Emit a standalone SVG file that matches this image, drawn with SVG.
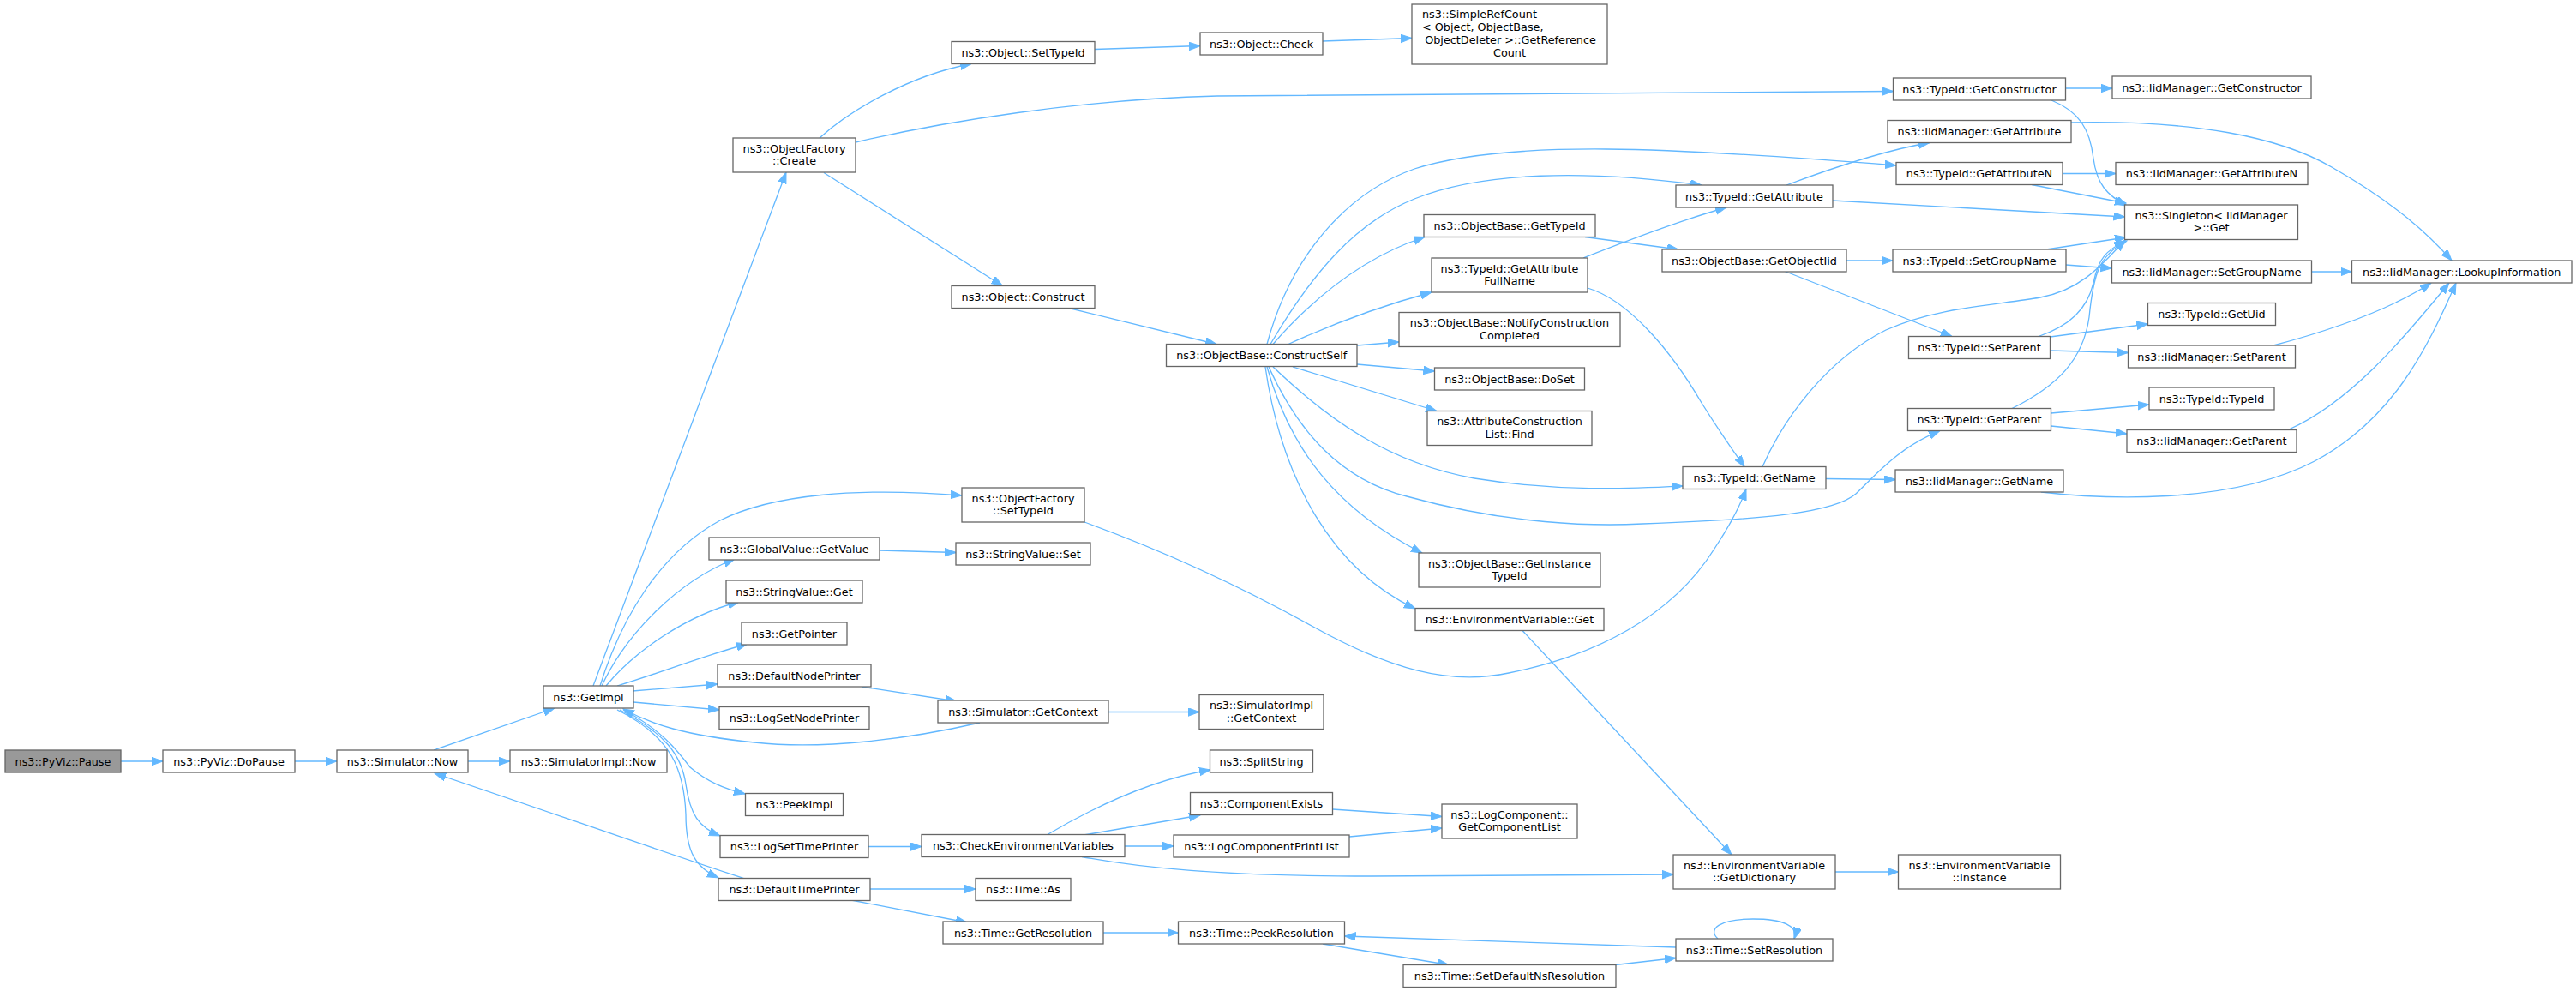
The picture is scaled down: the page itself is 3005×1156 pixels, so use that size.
<svg xmlns="http://www.w3.org/2000/svg" width="3005" height="1156" viewBox="0 0 3005 1156">
<defs>
<marker id="a" markerUnits="userSpaceOnUse" markerWidth="14" markerHeight="11" refX="13" refY="4.75" orient="auto">
<path d="M0,0 L13,4.75 L0,9.5 z" fill="#63b8ff" stroke="#63b8ff" stroke-width="1"/>
</marker>
<style>
.n rect{fill:#fff;stroke:#666;stroke-width:1.3}
.n text{font-family:"DejaVu Sans",Verdana,sans-serif;font-size:12.8px;text-anchor:middle;fill:#000}
.e path{fill:none;stroke:#63b8ff;stroke-width:1.3;marker-end:url(#a)}
</style>
</defs>
<rect width="3005" height="1156" fill="#fff"/>
<g id="edges" class="e">
<path d="M141,888 L190,888"/>
<path d="M344,888 L393,888"/>
<path d="M546,888 L595,888"/>
<path d="M506,875 L647,826"/>
<path d="M869,1025 C780,996 620,940 507,902"/>
<path d="M692,800 L917,201"/>
<path d="M700,800 C725,720 770,645 840,607 C900,577 1000,568 1122,578"/>
<path d="M702,800 C730,740 790,678 857,652"/>
<path d="M707,800 C740,760 800,718 862,702"/>
<path d="M720,800 C770,785 820,765 872,751"/>
<path d="M738,806 L837,798"/>
<path d="M739,819 L839,828"/>
<path d="M1143,843 C1060,862 960,875 880,866 C800,858 760,845 727,827"/>
<path d="M727,828 C770,850 790,875 805,895 C825,912 845,920 869,926"/>
<path d="M723,828 C775,855 795,880 800,915 C805,950 815,965 840,975"/>
<path d="M720,828 C785,860 798,900 800,950 C800,995 812,1012 838,1024"/>
<path d="M1005,801 L1116,818"/>
<path d="M1026,642 L1115,644.5"/>
<path d="M1293,830.5 L1399,830.5"/>
<path d="M1013,987.5 L1075,987.5"/>
<path d="M1015,1037 L1138,1037"/>
<path d="M993,1050 L1128,1076"/>
<path d="M1287,1088 L1374.5,1088"/>
<path d="M1221,974 C1270,945 1340,910 1412,898"/>
<path d="M1264,974 L1400,951"/>
<path d="M1312,987 L1369,987"/>
<path d="M1262,999.5 C1330,1012 1420,1022 1600,1022 C1750,1022 1870,1021 1952,1020"/>
<path d="M1554.5,944 L1682,952.5"/>
<path d="M1574,976 L1682,966"/>
<path d="M2141,1017 L2214.5,1017"/>
<path d="M1776,735.5 L2020,997"/>
<path d="M1955,1105 L1568.5,1092"/>
<path d="M1543,1101 L1690,1125.5"/>
<path d="M1880,1126 L1955,1117.5"/>
<path d="M2004,1095 C1992,1084 2005,1072 2045,1072 C2080,1072 2098,1080 2093,1095"/>
<path d="M1265,609 C1350,640 1440,680 1530,730 C1620,780 1690,800 1760,785 C1860,765 1950,720 2000,640 C2020,610 2030,590 2037,570.5"/>
<path d="M956,161 C990,130 1060,88 1133,74.5"/>
<path d="M1277,57.5 L1400,53.5"/>
<path d="M1543,48 L1647,44.5"/>
<path d="M998,166 C1100,142 1260,116 1420,112 L2208.5,106.5"/>
<path d="M961,201.5 L1169.5,333.5"/>
<path d="M1247,359.5 L1419,401.5"/>
<path d="M1478,401.5 C1505,300 1570,225 1650,197 C1760,162 1950,172 2212,193"/>
<path d="M1482,401.5 C1530,320 1580,260 1650,232 C1730,200 1850,198 1985,216"/>
<path d="M1485,401.5 C1530,350 1590,300 1662,276.5"/>
<path d="M1503,401.5 C1550,380 1610,357 1670,341"/>
<path d="M1583,403 L1632,399"/>
<path d="M1583,425 L1673.5,433"/>
<path d="M1508,428 L1676,479.5"/>
<path d="M1485,428 C1550,490 1620,540 1720,558 C1820,574 1900,570 1963,567"/>
<path d="M1480,428 C1515,505 1565,560 1641,579 C1760,612 1860,614 1916,611 C2060,606 2140,598 2165,576 C2190,552 2215,522 2263,502.5"/>
<path d="M1478,428 C1505,525 1560,595 1659,645"/>
<path d="M1476,428 C1495,560 1555,665 1651,710"/>
<path d="M1849,276.5 L1958,291"/>
<path d="M1847,301 C1880,288 1950,260 2014,242"/>
<path d="M1852,336 C1900,350 1950,410 1985,470 C2010,510 2025,530 2035,544.5"/>
<path d="M2084,216 C2140,195 2200,175 2251,166.5"/>
<path d="M2138,234 L2478.5,253"/>
<path d="M2154,304 L2208,304"/>
<path d="M2082,316.5 L2277,392.5"/>
<path d="M2130,558.5 L2211,559.5"/>
<path d="M2056,544.5 C2080,490 2130,420 2200,385 C2260,358 2330,356 2380,347 C2430,338 2455,305 2479,280"/>
<path d="M2409.5,103 L2464,103"/>
<path d="M2393,117 C2425,130 2438,150 2442,185 C2446,215 2458,228 2481,240"/>
<path d="M2416,143 C2560,140 2660,160 2720,195 C2790,235 2830,270 2860,304"/>
<path d="M2406,202.5 L2468,202.5"/>
<path d="M2370,215.5 L2480,237"/>
<path d="M2387,291 L2480,277"/>
<path d="M2410,309 L2463.5,313"/>
<path d="M2696.5,317 L2743.5,317"/>
<path d="M2378,392.5 C2415,380 2435,360 2442,330 C2448,300 2458,292 2479,281"/>
<path d="M2391.5,393 L2505.5,378"/>
<path d="M2391.5,409 L2482.5,411.5"/>
<path d="M2652,403 C2720,385 2790,360 2836,330"/>
<path d="M2347,476.5 C2400,450 2430,420 2437,370 C2442,320 2448,298 2481,281"/>
<path d="M2392.5,482 L2507,472"/>
<path d="M2392.5,497 L2481,506"/>
<path d="M2669,501.5 C2740,470 2800,400 2857,330"/>
<path d="M2381,574 C2450,582 2600,590 2700,538 C2790,490 2830,410 2865,330"/>
</g>
<g id="pause" class="n"><rect x="6" y="875" width="135" height="26" style="fill:#999"/><text x="73.5" y="892.5">ns3::PyViz::Pause</text></g>
<g id="dopause" class="n"><rect x="190" y="875" width="154" height="26"/><text x="267" y="892.5">ns3::PyViz::DoPause</text></g>
<g id="simnow" class="n"><rect x="393" y="875" width="153" height="26"/><text x="469.5" y="892.5">ns3::Simulator::Now</text></g>
<g id="simimplnow" class="n"><rect x="595" y="875" width="183" height="26"/><text x="686.5" y="892.5">ns3::SimulatorImpl::Now</text></g>
<g id="getimpl" class="n"><rect x="634" y="800" width="105" height="26"/><text x="686.5" y="817.5">ns3::GetImpl</text></g>
<g id="ofcreate" class="n"><rect x="855" y="161" width="143" height="40"/><text x="926.5" y="177.5">ns3::ObjectFactory</text><text x="926.5" y="192">::Create</text></g>
<g id="globalvalue" class="n"><rect x="827" y="627" width="199" height="26"/><text x="926.5" y="644.5">ns3::GlobalValue::GetValue</text></g>
<g id="stringget" class="n"><rect x="847" y="677" width="159" height="26"/><text x="926.5" y="694.5">ns3::StringValue::Get</text></g>
<g id="getpointer" class="n"><rect x="865" y="726" width="123" height="26"/><text x="926.5" y="743.5">ns3::GetPointer</text></g>
<g id="defnodeprinter" class="n"><rect x="837" y="775" width="179" height="26"/><text x="926.5" y="792.5">ns3::DefaultNodePrinter</text></g>
<g id="logsetnodeprinter" class="n"><rect x="839" y="824.5" width="175" height="26"/><text x="926.5" y="842">ns3::LogSetNodePrinter</text></g>
<g id="peekimpl" class="n"><rect x="869.5" y="925.5" width="114" height="26"/><text x="926.5" y="943">ns3::PeekImpl</text></g>
<g id="logsettimeprinter" class="n"><rect x="840" y="974.5" width="173" height="26"/><text x="926.5" y="992">ns3::LogSetTimePrinter</text></g>
<g id="deftimeprinter" class="n"><rect x="838" y="1024.5" width="177" height="26"/><text x="926.5" y="1042">ns3::DefaultTimePrinter</text></g>
<g id="objsettypeid" class="n"><rect x="1110" y="48.5" width="167" height="26"/><text x="1193.5" y="66">ns3::Object::SetTypeId</text></g>
<g id="objconstruct" class="n"><rect x="1110" y="333.5" width="167" height="26"/><text x="1193.5" y="351">ns3::Object::Construct</text></g>
<g id="ofsettypeid" class="n"><rect x="1122" y="569" width="143" height="40"/><text x="1193.5" y="585.5">ns3::ObjectFactory</text><text x="1193.5" y="600">::SetTypeId</text></g>
<g id="stringset" class="n"><rect x="1115" y="633" width="157" height="26"/><text x="1193.5" y="650.5">ns3::StringValue::Set</text></g>
<g id="simgetcontext" class="n"><rect x="1094" y="817" width="199" height="26"/><text x="1193.5" y="834.5">ns3::Simulator::GetContext</text></g>
<g id="checkenv" class="n"><rect x="1075" y="973.5" width="237" height="26"/><text x="1193.5" y="991">ns3::CheckEnvironmentVariables</text></g>
<g id="timeas" class="n"><rect x="1138" y="1024.5" width="111" height="26"/><text x="1193.5" y="1042">ns3::Time::As</text></g>
<g id="getresolution" class="n"><rect x="1100" y="1075" width="187" height="26"/><text x="1193.5" y="1092.5">ns3::Time::GetResolution</text></g>
<g id="objcheck" class="n"><rect x="1400" y="38" width="143" height="26"/><text x="1471.5" y="55.5">ns3::Object::Check</text></g>
<g id="constructself" class="n"><rect x="1360.5" y="401.5" width="222.5" height="26"/><text x="1471.75" y="419">ns3::ObjectBase::ConstructSelf</text></g>
<g id="simimplgetcontext" class="n"><rect x="1399" y="810.5" width="145" height="40"/><text x="1471.5" y="827">ns3::SimulatorImpl</text><text x="1471.5" y="841.5">::GetContext</text></g>
<g id="splitstring" class="n"><rect x="1411.5" y="875" width="120" height="26"/><text x="1471.5" y="892.5">ns3::SplitString</text></g>
<g id="componentexists" class="n"><rect x="1388.5" y="924.5" width="166" height="26"/><text x="1471.5" y="942">ns3::ComponentExists</text></g>
<g id="logcomponentprintlist" class="n"><rect x="1369" y="974" width="205" height="26"/><text x="1471.5" y="991.5">ns3::LogComponentPrintList</text></g>
<g id="peekresolution" class="n"><rect x="1374.5" y="1075" width="194" height="26"/><text x="1471.5" y="1092.5">ns3::Time::PeekResolution</text></g>
<g id="simplerefcount" class="n"><rect x="1647" y="5" width="228" height="70"/><text x="1659" y="21" style="text-anchor:start">ns3::SimpleRefCount</text><text x="1659" y="36" style="text-anchor:start">&lt; Object, ObjectBase,</text><text x="1762" y="51">ObjectDeleter &gt;::GetReference</text><text x="1761" y="65.5">Count</text></g>
<g id="obgettypeid" class="n"><rect x="1661" y="250.5" width="200" height="26"/><text x="1761" y="268">ns3::ObjectBase::GetTypeId</text></g>
<g id="getattrfullname" class="n"><rect x="1670" y="301" width="182" height="40"/><text x="1761" y="317.5">ns3::TypeId::GetAttribute</text><text x="1761" y="332">FullName</text></g>
<g id="notifyconstruction" class="n"><rect x="1632" y="364.5" width="258" height="40"/><text x="1761" y="381">ns3::ObjectBase::NotifyConstruction</text><text x="1761" y="395.5">Completed</text></g>
<g id="doset" class="n"><rect x="1673.5" y="429" width="175" height="26"/><text x="1761" y="446.5">ns3::ObjectBase::DoSet</text></g>
<g id="attrfind" class="n"><rect x="1665" y="479.5" width="192" height="40"/><text x="1761" y="496">ns3::AttributeConstruction</text><text x="1761" y="510.5">List::Find</text></g>
<g id="getinstancetypeid" class="n"><rect x="1655" y="645" width="212" height="40"/><text x="1761" y="661.5">ns3::ObjectBase::GetInstance</text><text x="1761" y="676">TypeId</text></g>
<g id="envget" class="n"><rect x="1651" y="709.5" width="220" height="26"/><text x="1761" y="727">ns3::EnvironmentVariable::Get</text></g>
<g id="getcomponentlist" class="n"><rect x="1682" y="938" width="158" height="40"/><text x="1761" y="954.5">ns3::LogComponent::</text><text x="1761" y="969">GetComponentList</text></g>
<g id="setdefaultns" class="n"><rect x="1637" y="1125.5" width="248" height="26"/><text x="1761" y="1143">ns3::Time::SetDefaultNsResolution</text></g>
<g id="typeidgetattribute" class="n"><rect x="1955" y="216" width="183" height="26"/><text x="2046.5" y="233.5">ns3::TypeId::GetAttribute</text></g>
<g id="getobjectiid" class="n"><rect x="1939" y="291" width="215" height="26"/><text x="2046.5" y="308.5">ns3::ObjectBase::GetObjectIid</text></g>
<g id="typeidgetname" class="n"><rect x="1963" y="544.5" width="167" height="26"/><text x="2046.5" y="562">ns3::TypeId::GetName</text></g>
<g id="getdictionary" class="n"><rect x="1952" y="997" width="189" height="40"/><text x="2046.5" y="1013.5">ns3::EnvironmentVariable</text><text x="2046.5" y="1028">::GetDictionary</text></g>
<g id="setresolution" class="n"><rect x="1955" y="1095" width="183" height="26"/><text x="2046.5" y="1112.5">ns3::Time::SetResolution</text></g>
<g id="getconstructor" class="n"><rect x="2208.5" y="91" width="201" height="26"/><text x="2309" y="108.5">ns3::TypeId::GetConstructor</text></g>
<g id="iidgetattribute" class="n"><rect x="2202" y="140.5" width="214" height="26"/><text x="2309" y="158">ns3::IidManager::GetAttribute</text></g>
<g id="getattributen" class="n"><rect x="2212" y="189.5" width="194" height="26"/><text x="2309" y="207">ns3::TypeId::GetAttributeN</text></g>
<g id="setgroupname" class="n"><rect x="2208" y="291" width="202" height="26"/><text x="2309" y="308.5">ns3::TypeId::SetGroupName</text></g>
<g id="setparent" class="n"><rect x="2226.5" y="392.5" width="165" height="26"/><text x="2309" y="410">ns3::TypeId::SetParent</text></g>
<g id="getparent" class="n"><rect x="2225.5" y="476.5" width="167" height="26"/><text x="2309" y="494">ns3::TypeId::GetParent</text></g>
<g id="iidgetname" class="n"><rect x="2211" y="548" width="196" height="26"/><text x="2309" y="565.5">ns3::IidManager::GetName</text></g>
<g id="envinstance" class="n"><rect x="2214.5" y="997" width="189" height="40"/><text x="2309" y="1013.5">ns3::EnvironmentVariable</text><text x="2309" y="1028">::Instance</text></g>
<g id="iidgetconstructor" class="n"><rect x="2464" y="89" width="232" height="26"/><text x="2580" y="106.5">ns3::IidManager::GetConstructor</text></g>
<g id="iidgetattributen" class="n"><rect x="2468" y="189.5" width="224" height="26"/><text x="2580" y="207">ns3::IidManager::GetAttributeN</text></g>
<g id="singleton" class="n"><rect x="2478.5" y="239" width="202" height="40.5"/><text x="2579.5" y="255.5">ns3::Singleton&lt; IidManager</text><text x="2579.5" y="270">&gt;::Get</text></g>
<g id="iidsetgroupname" class="n"><rect x="2463.5" y="304" width="233" height="26"/><text x="2580" y="321.5">ns3::IidManager::SetGroupName</text></g>
<g id="gettypeiduid" class="n"><rect x="2505.5" y="353.5" width="149" height="26"/><text x="2580" y="371">ns3::TypeId::GetUid</text></g>
<g id="iidsetparent" class="n"><rect x="2482.5" y="403" width="195" height="26"/><text x="2580" y="420.5">ns3::IidManager::SetParent</text></g>
<g id="typeidtypeid" class="n"><rect x="2507" y="452" width="146" height="26"/><text x="2580" y="469.5">ns3::TypeId::TypeId</text></g>
<g id="iidgetparent" class="n"><rect x="2481" y="501.5" width="198" height="26"/><text x="2580" y="519">ns3::IidManager::GetParent</text></g>
<g id="lookup" class="n"><rect x="2743.5" y="304" width="256.5" height="26"/><text x="2871.75" y="321.5">ns3::IidManager::LookupInformation</text></g>
</svg>
